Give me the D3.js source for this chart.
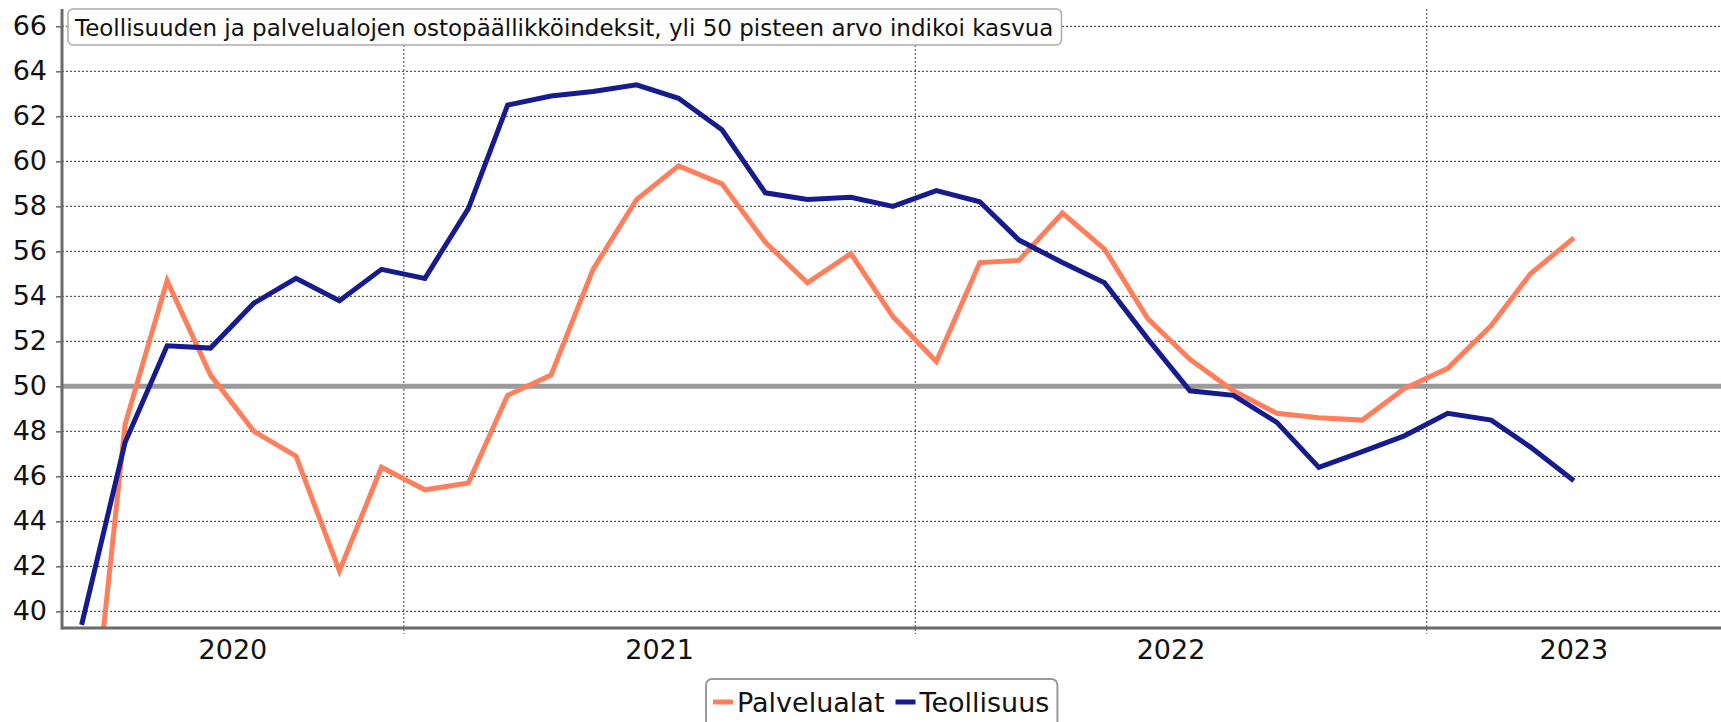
<!DOCTYPE html>
<meta charset="utf-8">
<script src="https://d3js.org/d3.v7.min.js"></script>
<style>
  body { margin: 0; background: #fff; }
  text { font-family: "DejaVu Sans", Verdana, sans-serif; }
</style>

<div id="chart"></div>

<script>

// monthly values, May 2020 - April 2023
var months = [
  "2020-05","2020-06","2020-07","2020-08","2020-09","2020-10","2020-11","2020-12",
  "2021-01","2021-02","2021-03","2021-04","2021-05","2021-06","2021-07","2021-08","2021-09","2021-10","2021-11","2021-12",
  "2022-01","2022-02","2022-03","2022-04","2022-05","2022-06","2022-07","2022-08","2022-09","2022-10","2022-11","2022-12",
  "2023-01","2023-02","2023-03","2023-04"
];

var palvelualat = [
  30.0, 48.3, 54.7, 50.5, 48.0, 46.9, 41.8, 46.4,
  45.4, 45.7, 49.6, 50.5, 55.2, 58.3, 59.8, 59.0, 56.4, 54.6, 55.9, 53.1,
  51.1, 55.5, 55.6, 57.7, 56.1, 53.0, 51.2, 49.8, 48.8, 48.6, 48.5, 49.9,
  50.8, 52.7, 55.0, 56.6
];

var teollisuus = [
  39.4, 47.5, 51.8, 51.7, 53.7, 54.8, 53.8, 55.2,
  54.8, 57.9, 62.5, 62.9, 63.1, 63.4, 62.8, 61.4, 58.6, 58.3, 58.4, 58.0,
  58.7, 58.2, 56.5, 55.5, 54.6, 52.1, 49.8, 49.6, 48.4, 46.4, 47.1, 47.8,
  48.8, 48.5, 47.3, 45.8
];

var yTicks = [40, 42, 44, 46, 48, 50, 52, 54, 56, 58, 60, 62, 64, 66];
var yearLabels = ["2020", "2021", "2022", "2023"];
var seriesNames = ["Palvelualat", "Teollisuus"];
var seriesColors = ["#ff7f5c", "#161c8e"];
var titleText = "Teollisuuden ja palvelualojen ostopäällikköindeksit, yli 50 pisteen arvo indikoi kasvua";

// size of the picture
var W = 1721, H = 722;
var margin = {top: 9, right: 0, bottom: 94, left: 62};
var width = W - margin.left - margin.right,
    height = H - margin.top - margin.bottom;

var svg = d3.select("#chart")
  .append("svg")
    .attr("width", W)
    .attr("height", H);

var g = svg.append("g")
    .attr("transform", "translate(" + margin.left + "," + margin.top + ")");

var parseMonth = d3.timeParse("%Y-%m");
// points sit in the middle of the month
function midMonth(s) { var d = parseMonth(s); d.setDate(16); return d; }

var x = d3.scaleTime()
  .domain([new Date(2020, 4, 2), new Date(2023, 6, 30)])
  .range([0, width]);

var y = d3.scaleLinear()
  .domain([39.26, 66.77])
  .range([height, 0]);

// horizontal grid
g.append("g")
  .selectAll("line")
  .data(yTicks)
  .enter().append("line")
    .attr("x1", 0).attr("x2", width)
    .attr("y1", function(d) { return y(d); })
    .attr("y2", function(d) { return y(d); })
    .style("stroke", "#333")
    .style("stroke-width", 1)
    .style("stroke-dasharray", "2,2");

// year boundaries
var yearStarts = d3.timeYear.range(x.domain()[0], x.domain()[1]);
g.append("g")
  .selectAll("line")
  .data(yearStarts)
  .enter().append("line")
    .attr("x1", function(d) { return x(d); })
    .attr("x2", function(d) { return x(d); })
    .attr("y1", 0).attr("y2", height + 6)
    .style("stroke", "#444")
    .style("stroke-width", 1)
    .style("stroke-dasharray", "2,2");

// the 50 line
g.append("line")
  .attr("x1", 0).attr("x2", width)
  .attr("y1", y(50)).attr("y2", y(50))
  .style("stroke", "#9a9a9a")
  .style("stroke-width", 5);

// clip the lines to the plot area
svg.append("defs").append("clipPath")
    .attr("id", "plotclip")
  .append("rect")
    .attr("x", 0).attr("y", 0)
    .attr("width", width).attr("height", height);

var line = d3.line()
  .x(function(d) { return x(midMonth(d.month)); })
  .y(function(d) { return y(d.value); });

var series = [palvelualat, teollisuus].map(function(vals, i) {
  return {
    name: seriesNames[i],
    color: seriesColors[i],
    values: vals.map(function(v, j) { return {month: months[j], value: v}; })
  };
});

g.append("g")
    .attr("clip-path", "url(#plotclip)")
  .selectAll("path")
  .data(series)
  .enter().append("path")
    .attr("d", function(d) { return line(d.values); })
    .style("fill", "none")
    .style("stroke", function(d) { return d.color; })
    .style("stroke-width", 5)
    .style("stroke-linejoin", "miter");

// Y axis
var yAxis = g.append("g")
  .call(d3.axisLeft(y).tickValues(yTicks).tickSize(6).tickPadding(9).tickFormat(d3.format("d")));
yAxis.select(".domain").remove();
yAxis.selectAll(".tick line").style("stroke", "#666").style("stroke-width", 1.5);
yAxis.selectAll(".tick text")
  .style("font-size", "27px")
  .style("fill", "#111")
  .style("font-family", "DejaVu Sans, sans-serif");

// year labels in the middle of each visible year
g.append("g")
  .selectAll("text")
  .data(yearLabels)
  .enter().append("text")
    .attr("x", function(d) {
      var a = Math.max(x(new Date(+d, 0, 1)), 0);
      var b = Math.min(x(new Date(+d + 1, 0, 1)), width);
      return (a + b) / 2;
    })
    .attr("y", height + 31)
    .attr("text-anchor", "middle")
    .style("font-size", "27px")
    .style("fill", "#111")
    .text(function(d) { return d; });

// axis lines
g.append("line")
  .attr("x1", 0).attr("x2", 0)
  .attr("y1", 0).attr("y2", height + 1.5)
  .style("stroke", "#6b6b6b").style("stroke-width", 3);
g.append("line")
  .attr("x1", 0).attr("x2", width)
  .attr("y1", height).attr("y2", height)
  .style("stroke", "#6b6b6b").style("stroke-width", 3);

// title box
var titleG = svg.append("g");
var titleBox = titleG.append("rect")
  .attr("x", 68).attr("y", 9)
  .attr("height", 36)
  .attr("rx", 5)
  .style("fill", "#fff")
  .style("stroke", "#aaa")
  .style("stroke-width", 1.5);
var titleLabel = titleG.append("text")
  .attr("x", 75).attr("y", 36)
  .style("font-size", "23px")
  .style("fill", "#111")
  .text(titleText);
titleBox.attr("width", titleLabel.node().getComputedTextLength() + 15);

// legend
var legend = svg.append("g");
var legendBox = legend.append("rect")
  .attr("x", 706).attr("y", 679)
  .attr("height", 60)
  .attr("rx", 6)
  .style("fill", "#fff")
  .style("stroke", "#999")
  .style("stroke-width", 2);

var lx = 713;
series.forEach(function(s) {
  legend.append("line")
    .attr("x1", lx).attr("x2", lx + 20)
    .attr("y1", 702).attr("y2", 702)
    .style("stroke", s.color)
    .style("stroke-width", 5);
  var t = legend.append("text")
    .attr("x", lx + 24).attr("y", 712)
    .style("font-size", "27px")
    .style("fill", "#111")
    .text(s.name);
  lx = lx + 24 + t.node().getComputedTextLength() + 11;
});
legendBox.attr("width", lx - 706 - 3);

</script>
